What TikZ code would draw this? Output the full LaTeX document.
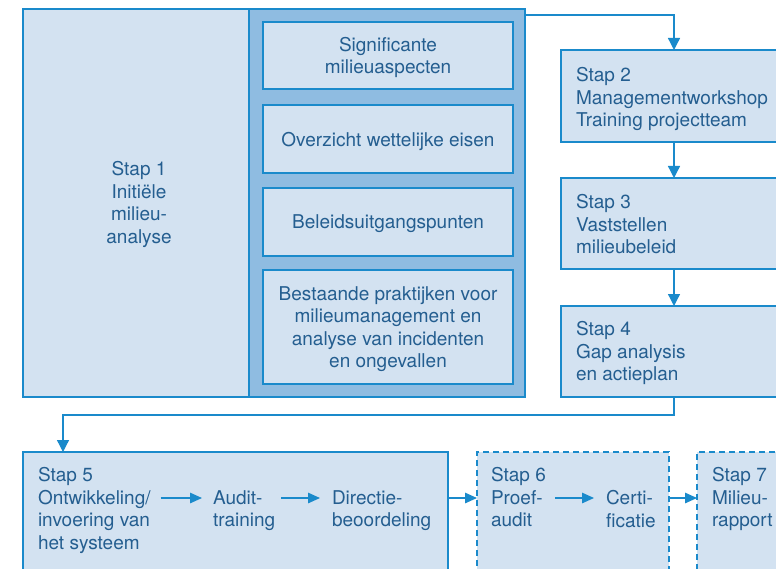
\documentclass[tikz,border=0pt]{standalone}
\usepackage{fontspec}
\setmainfont{TeX Gyre Heros}
\usetikzlibrary{arrows.meta}
\definecolor{lightfill}{HTML}{D3E2F1}
\definecolor{darkfill}{HTML}{8FBCE1}
\definecolor{edgeblue}{HTML}{1A8ACB}
\definecolor{ink}{HTML}{245E90}
\begin{document}
\begin{tikzpicture}[x=1pt,y=-1pt,
  font=\fontsize{19}{22.5}\selectfont,
  every node/.style={text=ink},
  box/.style={draw=edgeblue, line width=1.2pt, fill=lightfill, inner sep=0pt, outer sep=0pt},
  darkbox/.style={box, fill=darkfill},
  dashbox/.style={box, dash pattern=on 6pt off 4pt},
  stepbox/.style={box, minimum width=226pt},
  subbox/.style={box, align=center, minimum width=250pt, text depth=0pt},
  txt/.style={inner sep=0pt, outer sep=0pt, align=left, anchor=north west},
  arr/.style={draw=edgeblue, line width=1.3pt, -{Triangle[length=12pt,width=12pt]}},
  sarr/.style={draw=edgeblue, line width=1.3pt, -{Triangle[length=12pt,width=10.5pt]}}
]
\useasboundingbox (0,0) rectangle (776,569);
\clip (0,0) rectangle (776,569);
% Stap 1
\node[darkbox, minimum width=276pt, minimum height=388pt] (s1b) at (387,203) {};
\node[box, minimum width=226pt, minimum height=388pt] (s1a) at (136,203) {};
\node[txt, align=center, anchor=north] (s1t) at (139,161.5) {Stap 1\\Initiële\\milieu-\\analyse};
\node[subbox, minimum height=67pt] (sa) at (388,55.5) {Significante\\milieuaspecten};
\node[subbox, minimum height=68pt] (sb) at (388,139) {Overzicht wettelijke eisen};
\node[subbox, minimum height=68pt] (sc) at (388,222) {Beleidsuitgangspunten};
\node[subbox, minimum height=114pt] (sd) at (388,327) {Bestaande praktijken voor\\milieumanagement en\\analyse van incidenten\\en ongevallen};
% Stap 2-4
\node[stepbox, minimum height=92pt] (s2) at (674,96) {};
\node[stepbox, minimum height=91pt] (s3) at (674,223.5) {};
\node[stepbox, minimum height=91pt] (s4) at (674,351.5) {};
\node[txt] (s2t) at (576,67.5) {Stap 2\\Managementworkshop\\Training projectteam};
\node[txt] (s3t) at (576,194.5) {Stap 3\\Vaststellen\\milieubeleid};
\node[txt] (s4t) at (576,321.5) {Stap 4\\Gap analysis\\en actieplan};
% Stap 5-7 boxes
\node[box, minimum width=425pt, minimum height=168pt] (s5) at (235.5,536) {};
\node[dashbox, minimum width=192pt, minimum height=168pt] (s6) at (573,536) {};
\node[dashbox, minimum width=200pt, minimum height=168pt] (s7) at (797,536) {};
% texts
\node[txt] (s5t) at (38,467.5) {Stap 5\\Ontwikkeling/\\invoering van\\het systeem};
\node[txt] (audit) at (213,490.5) {Audit-\\training};
\node[txt] (dir) at (332,490.5) {Directie-\\beoordeling};
\node[txt] (s6t) at (491,467.5) {Stap 6\\Proef-\\audit};
\node[txt] (cert) at (606,490.5) {Certi-\\ficatie};
\node[txt] (s7t) at (712,467.5) {Stap 7\\Milieu-\\rapport};
\coordinate (r) at (0,498);
% connectors
\draw[arr] ([yshift=-6pt]s1b.north east) -| (s2.north);
\draw[arr] (s2.south) -- (s3.north);
\draw[arr] (s3.south) -- (s4.north);
\draw[arr] (s4.south) -- ++(0,18) -| ([xshift=40pt]s5.north west);
\draw[sarr, shorten <=10pt, shorten >=11pt] (s5t.east |- r) -- (audit.west |- r);
\draw[sarr, shorten <=6pt, shorten >=12pt] (audit.east |- r) -- (dir.west |- r);
\draw[sarr] (s5.east |- r) -- (s6.west |- r);
\draw[sarr, shorten <=9pt, shorten >=12pt] (s6t.east |- r) -- (cert.west |- r);
\draw[sarr] (s6.east |- r) -- (s7.west |- r);
\end{tikzpicture}
\end{document}
